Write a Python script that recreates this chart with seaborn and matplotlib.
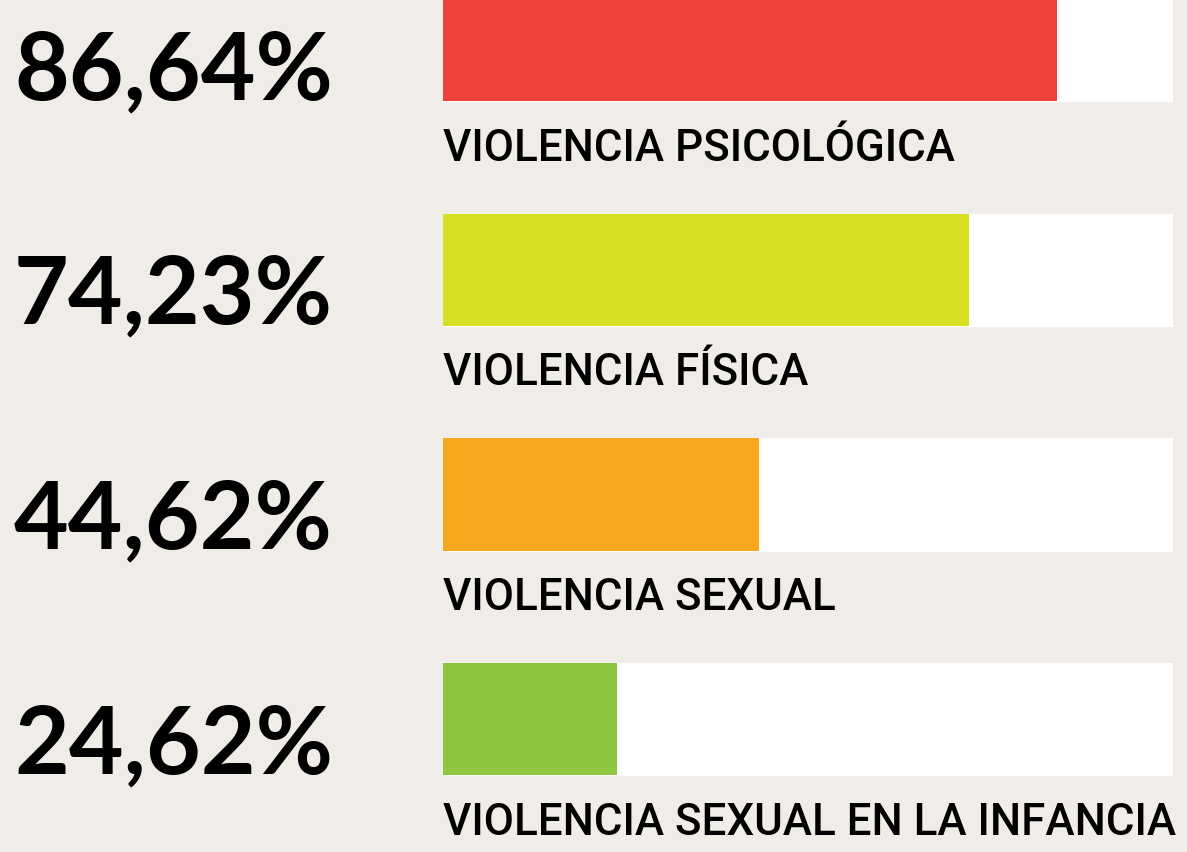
import seaborn as sns
import matplotlib.pyplot as plt
from matplotlib.transforms import blended_transform_factory

categories = ["VIOLENCIA PSICOLÓGICA", "VIOLENCIA FÍSICA",
              "VIOLENCIA SEXUAL", "VIOLENCIA SEXUAL EN LA INFANCIA"]
values = [86.64, 74.23, 44.62, 24.62]
value_labels = ["86,64%", "74,23%", "44,62%", "24,62%"]
colors = ["#EF4138", "#D7DF21", "#F8A61E", "#8DC63F"]
track_max = 103

bg = "#F0EDE8"
sns.set_theme(style="white")

fig = plt.figure(figsize=(11.87, 8.53), dpi=100, facecolor=bg)
# axes spans the white track horizontally, full height vertically
ax = fig.add_axes([443 / 1187, 0, (1173 - 443) / 1187, 1])
ax.set_facecolor(bg)

sns.barplot(x=[track_max] * len(categories), y=categories, orient="h",
            color="white", width=0.5, saturation=1, ax=ax)
sns.barplot(x=values, y=categories, hue=categories, palette=colors, orient="h",
            width=0.5, saturation=1, legend=False, linewidth=0, ax=ax)

ax.set_xlim(0, track_max)
ax.set_ylim(3.592, -0.205)
ax.axis("off")

trans = blended_transform_factory(fig.transFigure, ax.transData)
for i, (cat, lab) in enumerate(zip(categories, value_labels)):
    ax.text(0, i + 0.51, cat, ha="left", va="baseline", fontsize=31.6,
            fontweight="medium", family=["Roboto", "DejaVu Sans"], color="black")
    ax.text(333 / 1187, i + 0.236, lab, transform=trans, ha="right", va="baseline",
            fontsize=68, fontweight="bold", family=["Lato", "DejaVu Sans"], color="black")

fig.savefig("out.png", dpi=100, facecolor=bg)
